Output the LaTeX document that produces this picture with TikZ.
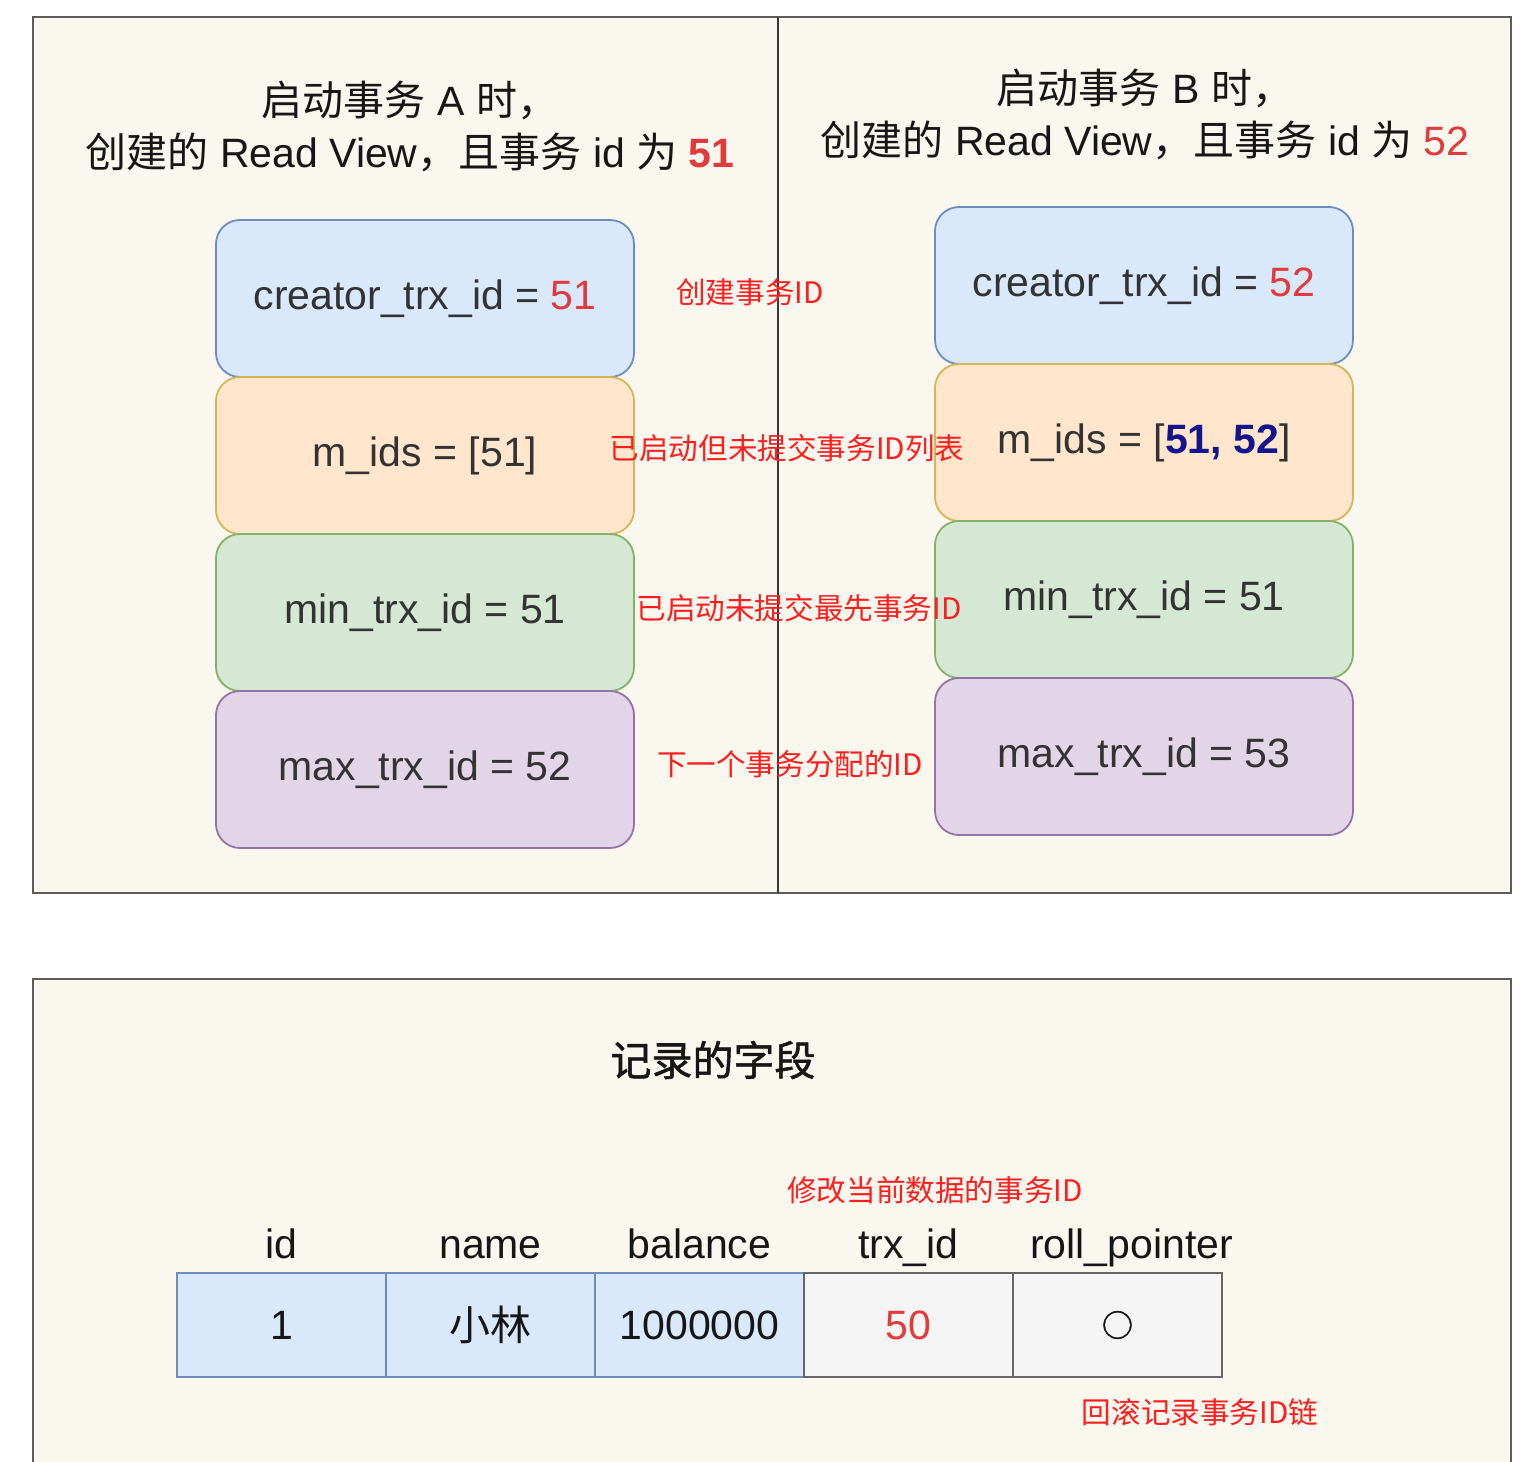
\documentclass[tikz,border=0pt]{standalone}
\usepackage{fontspec}
\usepackage{tikz}
\usetikzlibrary{positioning}
\setmainfont{Liberation Sans}
\newfontfamily\cjk{Noto Sans CJK SC}
\newfontfamily\cjkheavy[FakeBold=1.3]{Noto Sans CJK SC}
\definecolor{panelbg}{HTML}{F9F7EE}
\definecolor{panelline}{HTML}{5C5C5C}
\definecolor{viewblue}{HTML}{DAE8FC}
\definecolor{viewbluel}{HTML}{6C8EBF}
\definecolor{vieworange}{HTML}{FFE6CC}
\definecolor{vieworangel}{HTML}{D6B656}
\definecolor{viewgreen}{HTML}{D5E8D4}
\definecolor{viewgreenl}{HTML}{82B366}
\definecolor{viewpurple}{HTML}{E1D5E7}
\definecolor{viewpurplel}{HTML}{9673A6}
\definecolor{cellgray}{HTML}{F5F5F5}
\definecolor{cellgrayl}{HTML}{666666}
\definecolor{idred}{HTML}{E03A3A}
\definecolor{notered}{HTML}{FF1E1E}
\definecolor{idnavy}{HTML}{14148C}
\definecolor{fieldtext}{HTML}{333333}
\definecolor{titletext}{HTML}{161616}

\begin{document}
\begin{tikzpicture}[x=0.5pt, y=-0.5pt,
    field/.style={rectangle, rounded corners=12pt, minimum width=209pt, minimum height=78.5pt,
        inner sep=0pt, outer sep=0pt, line width=0.9pt, text=fieldtext,
        font=\fontsize{20.5}{24}\selectfont},
    bluefield/.style={field, fill=viewblue, draw=viewbluel},
    orangefield/.style={field, fill=vieworange, draw=vieworangel},
    greenfield/.style={field, fill=viewgreen, draw=viewgreenl},
    purplefield/.style={field, fill=viewpurple, draw=viewpurplel},
    heading/.style={align=center, text=titletext, font=\fontsize{20.5}{26}\selectfont},
    note/.style={inner sep=0pt, text=notered, font=\cjk\fontsize{14.8}{18}\selectfont},
    cell/.style={rectangle, minimum width=104.5pt, minimum height=52pt, inner sep=0pt,
        outer sep=0pt, line width=0.9pt, text=titletext, font=\fontsize{20.5}{24}\selectfont},
    headlabel/.style={anchor=base, inner sep=0pt, text=titletext, font=\fontsize{20.5}{24}\selectfont}]

    \useasboundingbox (0,0) rectangle (1538,1462);
    \fill[white] (0,0) rectangle (1538,1462);

    % Read view panels
    \draw[fill=panelbg, draw=panelline, line width=1.2pt] (33,17) rectangle (1511,893);
    \draw[line width=1pt, color=titletext!85] (778,17) -- (778,893);

    % Headings of both panels
    \node[heading] (titleA) at (410,126) {{\cjk 启动事务} A {\cjk 时，}\\
        {\cjk 创建的} Read View{\cjk ，且事务} id {\cjk 为} \textcolor{idred}{\textbf{51}}};
    \node[heading] (titleB) at (1145,114) {{\cjk 启动事务} B {\cjk 时，}\\
        {\cjk 创建的} Read View{\cjk ，且事务} id {\cjk 为} \textcolor{idred}{52}};

    % Read view of transaction A
    \node[bluefield] (creatorA) at (425,298.5) {creator\_trx\_id = \textcolor{idred}{51}};
    \node[orangefield, below=0pt of creatorA] (midsA) {m\_ids = [51]};
    \node[greenfield, below=0pt of midsA] (minA) {min\_trx\_id = 51};
    \node[purplefield, below=0pt of minA] (maxA) {max\_trx\_id = 52};

    % Read view of transaction B
    \node[bluefield] (creatorB) at (1144,285.5) {creator\_trx\_id = \textcolor{idred}{52}};
    \node[orangefield, below=0pt of creatorB] (midsB) {m\_ids = [\textcolor{idnavy}{\textbf{51, 52}}]};
    \node[greenfield, below=0pt of midsB] (minB) {min\_trx\_id = 51};
    \node[purplefield, below=0pt of minB] (maxB) {max\_trx\_id = 53};

    % Field notes
    \node[note] (noteCreator) at (750,292) {创建事务ID};
    \node[note] (noteMids) at (787,448) {已启动但未提交事务ID列表};
    \node[note] (noteMin) at (799,608) {已启动未提交最先事务ID};
    \node[note] (noteMax) at (790,764) {下一个事务分配的ID};

    % Record panel, open at the bottom
    \fill[panelbg] (33,979) rectangle (1511,1480);
    \draw[panelline, line width=1.2pt] (33,1480) -- (33,979) -- (1511,979) -- (1511,1480);
    \node[heading, font=\cjkheavy\fontsize{20.5}{26}\selectfont] (recTitle) at (713,1060) {记录的字段};

    % Record row
    \node[cell, fill=viewblue, draw=viewbluel] (cellId) at (281.5,1325) {1};
    \node[cell, fill=viewblue, draw=viewbluel, right=0pt of cellId] (cellName) {{\cjk 小林}};
    \node[cell, fill=viewblue, draw=viewbluel, right=0pt of cellName] (cellBalance) {1000000};
    \node[cell, fill=cellgray, draw=cellgrayl, right=0pt of cellBalance] (cellTrx) {\textcolor{idred}{50}};
    \node[cell, fill=cellgray, draw=cellgrayl, right=0pt of cellTrx] (cellRoll) {{\cjkheavy\fontsize{15.5}{18}\selectfont ○}};

    % Column names
    \foreach \c/\head in {cellId/id, cellName/name, cellBalance/balance, cellTrx/trx\_id}
        \node[headlabel] (head-\c) at ([yshift=7.5pt]\c.north) {\head};
    \node[headlabel] (head-cellRoll) at ([xshift=7pt, yshift=7.5pt]cellRoll.north) {roll\_pointer};

    % Record notes
    \node[note] (noteTrx) at (935,1190) {修改当前数据的事务ID};
    \node[note] (noteRoll) at (1200,1412) {回滚记录事务ID链};
\end{tikzpicture}
\end{document}
